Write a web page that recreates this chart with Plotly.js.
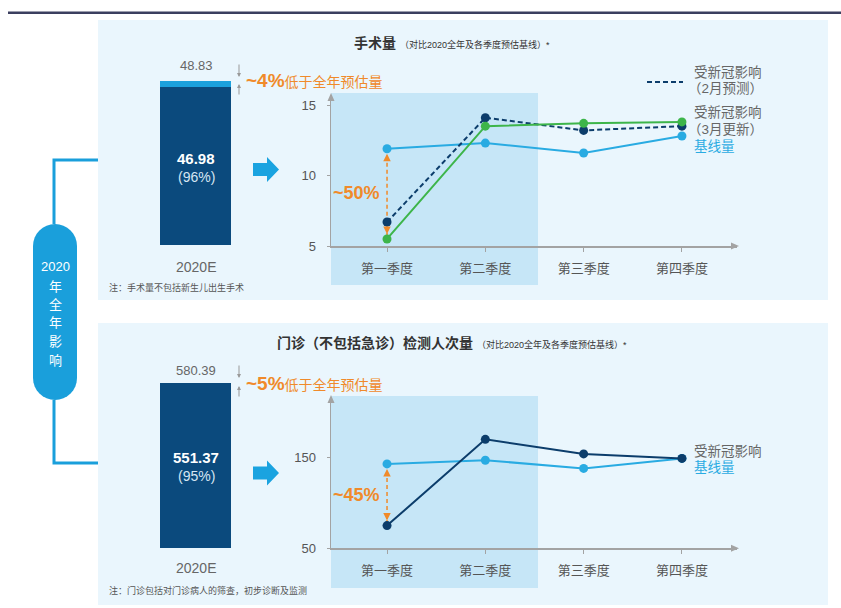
<!DOCTYPE html>
<html><head><meta charset="utf-8">
<script src="https://cdn.plot.ly/plotly-3.0.1.min.js"></script>
<style>html,body{margin:0;padding:0;background:#fff}#c{width:841px;height:608px}</style>
</head><body><div id="c"></div>
<script>
// ---------- data ----------
const quarters = ['第一季度','第二季度','第三季度','第四季度'];
const surgeryBaseline = [11.9, 12.3, 11.6, 12.8];
const surgeryFeb      = [6.7, 14.1, 13.2, 13.5];
const surgeryMar      = [5.5, 13.5, 13.7, 13.8];
const outpatientBaseline = [143, 147, 138, 149];
const outpatientImpacted = [75, 170, 154, 149];
const barCategory = ['2020E'];
const surgeryYearBaseline = 48.83;
const surgeryYearImpacted = 46.98;
const outpatientYearBaseline = 580.39;
const outpatientYearImpacted = 551.37;
const surgeryYTicks = [5, 10, 15];
const outpatientYTicks = [50, 150];

// ---------- helpers ----------
const W = 841, H = 608;
const px = x => x / W, py = y => 1 - y / H;
const FONT = 'Liberation Sans, Noto Sans CJK SC, sans-serif';
const C = {navy:'#0c3d6b', bar:'#0b4a7d', blue:'#29abe2', lightTop:'#1ba1dd', green:'#3db54a',
  orange:'#f08a2a', gray:'#666', axis:'#a3a3a3', panel:'#eaf6fd', shade:'#c6e6f7', pill:'#1a9fdb'};
function A(x, y, text, size, color, extra) {
  return Object.assign({xref:'paper', yref:'paper', x:px(x), y:py(y), text, showarrow:false,
    xanchor:'center', yanchor:'middle', font:{family:FONT, size, color}}, extra || {});
}
function rect(x0,y0,x1,y1,fill,extra){
  return Object.assign({type:'rect', xref:'paper', yref:'paper', x0:px(x0), x1:px(x1), y0:py(y0), y1:py(y1),
    fillcolor:fill, line:{width:0}, layer:'below'}, extra||{});
}
function path(pts, fill, line){
  const d = pts.map((p,i)=>(i?'L':'M')+px(p[0])+','+py(p[1])).join(' ') + (fill?' Z':'');
  return {type:'path', xref:'paper', yref:'paper', path:d, fillcolor:fill||'rgba(0,0,0,0)',
    line: line || {width:0}, layer:'above'};
}
function blueArrow(x, cy){
  return path([[x,cy-6.5],[x+14,cy-6.5],[x+14,cy-12.5],[x+26,cy],[x+14,cy+12.5],[x+14,cy+6.5],[x,cy+6.5]], '#1aa3e0');
}

// ---------- traces ----------
const traces = [
  // top bar
  {type:'bar', x:barCategory, y:[surgeryYearImpacted], xaxis:'x', yaxis:'y', marker:{color:C.bar}, width:1, hoverinfo:'skip'},
  {type:'bar', x:barCategory, y:[surgeryYearBaseline - surgeryYearImpacted], xaxis:'x', yaxis:'y', marker:{color:C.lightTop}, width:1, hoverinfo:'skip'},
  // bottom bar
  {type:'bar', x:barCategory, y:[outpatientYearImpacted], xaxis:'x3', yaxis:'y3', marker:{color:C.bar}, width:1, hoverinfo:'skip'},
  // top orange gap
  {type:'scatter', mode:'lines', x:[quarters[0],quarters[0]], y:[surgeryBaseline[0], surgeryMar[0]], xaxis:'x2', yaxis:'y2',
    line:{color:C.orange, width:1.5, dash:'4px,3px'}, hoverinfo:'skip'},
  // top lines
  {type:'scatter', mode:'lines+markers', name:'基线量', x:quarters, y:surgeryBaseline, xaxis:'x2', yaxis:'y2',
    line:{color:C.blue, width:2}, marker:{color:C.blue, size:9}},
  {type:'scatter', mode:'lines+markers', name:'受新冠影响（2月预测）', x:quarters, y:surgeryFeb, xaxis:'x2', yaxis:'y2',
    line:{color:C.navy, width:2, dash:'5px,3px'}, marker:{color:C.navy, size:9}},
  {type:'scatter', mode:'lines+markers', name:'受新冠影响（3月更新）', x:quarters, y:surgeryMar, xaxis:'x2', yaxis:'y2',
    line:{color:C.green, width:2}, marker:{color:C.green, size:9}},
  // bottom orange gap
  {type:'scatter', mode:'lines', x:[quarters[0],quarters[0]], y:[outpatientBaseline[0], outpatientImpacted[0]], xaxis:'x4', yaxis:'y4',
    line:{color:C.orange, width:1.5, dash:'4px,3px'}, hoverinfo:'skip'},
  // bottom lines
  {type:'scatter', mode:'lines+markers', name:'基线量', x:quarters, y:outpatientBaseline, xaxis:'x4', yaxis:'y4',
    line:{color:C.blue, width:2}, marker:{color:C.blue, size:9}},
  {type:'scatter', mode:'lines+markers', name:'受新冠影响', x:quarters, y:outpatientImpacted, xaxis:'x4', yaxis:'y4',
    line:{color:C.navy, width:2}, marker:{color:C.navy, size:9}},
];

// ---------- axes ----------
const hiddenX = d => ({domain:d, range:[-0.5,0.5], visible:false, fixedrange:true});
const lineX = (anchor) => ({domain:[px(331), px(737)], anchor, type:'category', range:[-0.57, 3.56],
  showline:true, linecolor:C.axis, linewidth:1.5, ticks:'outside', ticklen:4, tickcolor:C.axis,
  showgrid:false, zeroline:false, tickfont:{family:FONT, size:13, color:'#555'}, ticklabelstandoff:6, fixedrange:true});
const lineY = (d, r, tv, anchor) => ({domain:d, anchor, range:r, tickvals:tv, showline:true, linecolor:C.axis, linewidth:1.5,
  ticks:'outside', ticklen:3, tickcolor:C.axis, showgrid:false, zeroline:false,
  tickfont:{family:FONT, size:13, color:'#555'}, ticklabelstandoff:8, fixedrange:true});

const layout = {
  width:W, height:H, margin:{l:0,r:0,t:0,b:0}, showlegend:false, barmode:'stack',
  paper_bgcolor:'#fff', plot_bgcolor:'rgba(0,0,0,0)', hovermode:false,
  xaxis: Object.assign(hiddenX([px(160), px(231)]), {anchor:'y'}),
  yaxis: {domain:[py(245), py(81)], range:[0, surgeryYearBaseline], visible:false, anchor:'x', fixedrange:true},
  xaxis2: lineX('y2'),
  yaxis2: lineY([py(246), py(95)], [5, 15.71], surgeryYTicks, 'x2'),
  xaxis3: Object.assign(hiddenX([px(160), px(231)]), {anchor:'y3'}),
  yaxis3: {domain:[py(548), py(383)], range:[0, outpatientYearImpacted], visible:false, anchor:'x3', fixedrange:true},
  xaxis4: lineX('y4'),
  yaxis4: lineY([py(548.3), py(396.7)], [50, 217], outpatientYTicks, 'x4'),
  shapes: [
    {type:'line', xref:'paper', yref:'paper', x0:px(8), x1:1, y0:py(12.7), y1:py(12.7), line:{color:'#3b3f5f', width:2.5}},
    rect(98,20,828,300,C.panel),
    rect(98,323,828,605,C.panel),
    rect(331,93,538,285,C.shade),
    rect(331,396,538,588,C.shade),
    // connector
    path([[98,160],[54,160],[54,224]], null, {color:C.pill, width:3}),
    path([[54,400],[54,463],[98,463]], null, {color:C.pill, width:3}),
    // pill
    {type:'path', xref:'paper', yref:'paper', fillcolor:C.pill, line:{width:0}, layer:'above',
      path:(function(){const x0=33,x1=77,y0=224,y1=400,r=22;let pts=[];
        for(let i=0;i<=16;i++){const a=Math.PI+Math.PI*i/16;pts.push([55+r*Math.cos(a), y0+r+r*Math.sin(a)]);}
        for(let i=0;i<=16;i++){const a=Math.PI*i/16;pts.push([55+r*Math.cos(a), y1-r+r*Math.sin(a)]);}
        return pts.map((p,i)=>(i?'L':'M')+px(p[0])+','+py(p[1])).join(' ')+' Z';})()},
    blueArrow(253,169.5),
    blueArrow(253,473),
    // axis arrowheads
    path([[327.5,101],[331,93],[334.5,101]], C.axis),
    path([[731,242.5],[739,246],[731,249.5]], C.axis),
    path([[327.5,403],[331,395],[334.5,403]], C.axis),
    path([[731,544.8],[739,548.3],[731,551.8]], C.axis),
    // legend dashed sample
    {type:'line', xref:'paper', yref:'paper', x0:px(647), x1:px(683), y0:py(82), y1:py(82), line:{color:C.navy, width:2, dash:'5px,3px'}},
  ],
  annotations: [
    A(55,266.7,'2020',13,'#fff'), A(55,286.7,'年',13,'#fff'), A(55,304.5,'全',13,'#fff'),
    A(55,322.5,'年',13,'#fff'), A(55,341.7,'影',13,'#fff'), A(55,360.7,'响',13,'#fff'),
    // top panel
    A(352,43,'<b>手术量</b> <span style="font-size:9px">（对比2020全年及各季度预估基线）*</span>',14,'#333',{xanchor:'left'}),
    A(196,66,'48.83',13,C.gray),
    A(196,158,'<b>46.98</b>',15,'#fff'),
    A(196,177,'(96%)',14,'#d6e6f3'),
    A(196,267,'2020E',14,C.gray),
    A(107,287,'注：手术量不包括新生儿出生手术',9,'#555',{xanchor:'left'}),
    A(244,80.5,'<b>~4%</b><span style="font-size:14px">低于全年预估量</span>',19,C.orange,{xanchor:'left'}),
    A(356,193,'<b>~50%</b>',18,C.orange),
    A(692,72,'受新冠影响',13.5,C.gray,{xanchor:'left'}),
    A(686,88,'（2月预测）',13.5,C.gray,{xanchor:'left'}),
    A(692,113,'受新冠影响',13.5,C.gray,{xanchor:'left'}),
    A(686,129,'（3月更新）',13.5,C.gray,{xanchor:'left'}),
    A(692,146,'基线量',13.5,C.blue,{xanchor:'left'}),
    // bottom panel
    A(275,343,'<b>门诊（不包括急诊）检测人次量</b> <span style="font-size:9px">（对比2020全年及各季度预估基线）*</span>',14,'#333',{xanchor:'left'}),
    A(196,370,'580.39',13,C.gray),
    A(196,457,'<b>551.37</b>',15,'#fff'),
    A(196,476,'(95%)',14,'#d6e6f3'),
    A(196,568,'2020E',14,C.gray),
    A(107,590,'注：门诊包括对门诊病人的筛查，初步诊断及监测',9,'#555',{xanchor:'left'}),
    A(244,383.5,'<b>~5%</b><span style="font-size:14px">低于全年预估量</span>',19,C.orange,{xanchor:'left'}),
    A(356,495,'<b>~45%</b>',18,C.orange),
    A(692,451.7,'受新冠影响',13.5,C.gray,{xanchor:'left'}),
    A(692,466.7,'基线量',13.5,C.blue,{xanchor:'left'}),
    // small gray arrows
    {xref:'paper',yref:'paper',x:px(239),y:py(77),ax:0,ay:-14,showarrow:true,arrowhead:2,arrowsize:0.8,arrowwidth:1,arrowcolor:'#999',text:''},
    {xref:'paper',yref:'paper',x:px(239),y:py(84),ax:0,ay:12,showarrow:true,arrowhead:2,arrowsize:0.8,arrowwidth:1,arrowcolor:'#999',text:''},
    {xref:'paper',yref:'paper',x:px(239),y:py(378),ax:0,ay:-14,showarrow:true,arrowhead:2,arrowsize:0.8,arrowwidth:1,arrowcolor:'#999',text:''},
    {xref:'paper',yref:'paper',x:px(239),y:py(386),ax:0,ay:12,showarrow:true,arrowhead:2,arrowsize:0.8,arrowwidth:1,arrowcolor:'#999',text:''},
    // orange arrowheads (data anchored)
    {xref:'x2',yref:'y2',x:quarters[0],y:surgeryBaseline[0],ax:0,ay:10,standoff:5,showarrow:true,arrowhead:2,arrowsize:1,arrowwidth:1.5,arrowcolor:C.orange,text:''},
    {xref:'x2',yref:'y2',x:quarters[0],y:surgeryMar[0],ax:0,ay:-10,standoff:5,showarrow:true,arrowhead:2,arrowsize:1,arrowwidth:1.5,arrowcolor:C.orange,text:''},
    {xref:'x4',yref:'y4',x:quarters[0],y:outpatientBaseline[0],ax:0,ay:10,standoff:5,showarrow:true,arrowhead:2,arrowsize:1,arrowwidth:1.5,arrowcolor:C.orange,text:''},
    {xref:'x4',yref:'y4',x:quarters[0],y:outpatientImpacted[0],ax:0,ay:-10,standoff:5,showarrow:true,arrowhead:2,arrowsize:1,arrowwidth:1.5,arrowcolor:C.orange,text:''},
  ]
};

Plotly.newPlot('c', traces, layout, {displayModeBar:false, staticPlot:true});
</script></body></html>
